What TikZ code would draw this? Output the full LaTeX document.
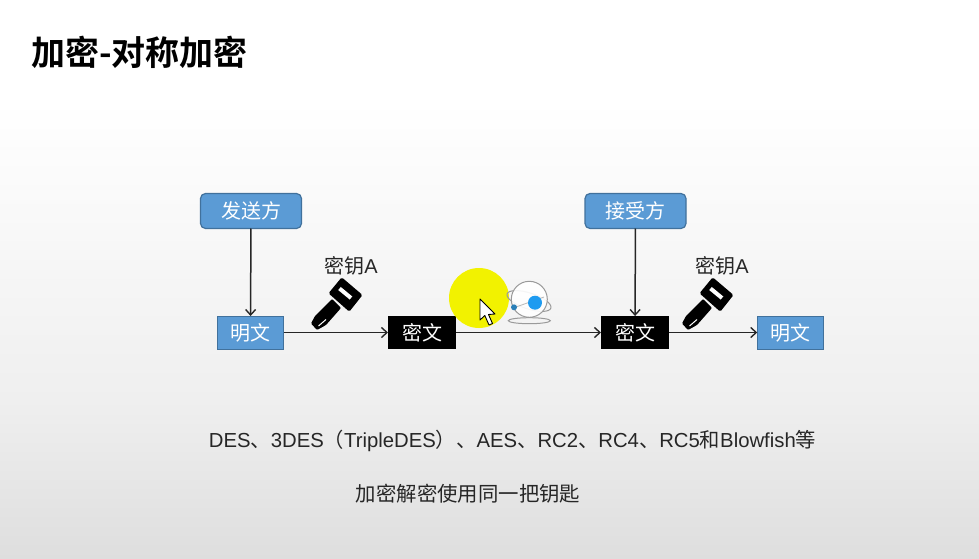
\documentclass[tikz,border=0pt]{standalone}
\usepackage{fontspec}
\setmainfont{Liberation Sans}
\newfontfamily\cjk{Noto Sans CJK SC}
\newfontfamily\cjkbold{Noto Sans CJK SC Bold}
\usetikzlibrary{arrows.meta}
\definecolor{boxblue}{HTML}{5B9BD5}
\definecolor{boxedge}{HTML}{41719C}
\definecolor{inktext}{HTML}{262626}
\definecolor{halo}{HTML}{F2F200}
\definecolor{orbit}{HTML}{9A9A9A}
\definecolor{orbdot}{HTML}{1E9BF0}
\definecolor{orbsmall}{HTML}{2A7FB8}
\definecolor{slidemid}{HTML}{EFEFEF}
\definecolor{slidelow}{HTML}{DEDEDE}
\tikzset{
  base/.style={inner sep=0pt,outer sep=0pt,text=white,font=\cjk\fontsize{20}{20}\selectfont,anchor=center},
  rolebox/.style={base,draw=boxedge,line width=1.2pt,fill=boxblue,rounded corners=5pt,minimum width=101pt,minimum height=35pt},
  plainbox/.style={base,draw=boxedge,line width=0.8pt,fill=boxblue,minimum width=66.5pt,minimum height=33pt},
  cipherbox/.style={base,fill=black,minimum width=68pt,minimum height=33pt},
  caption/.style={inner sep=0pt,text=inktext,anchor=center},
  flow/.style={draw=inktext,line width=1.5pt,-{Straight Barb[length=5.5pt,width=10pt,line width=1.4pt]}},
  keyicon/.pic={
    \fill[black,rounded corners=1.5pt] (341.7,277.3) -- (362.5,295) -- (349.3,311.7) -- (328.5,293.3) -- cycle;
    \fill[black,rounded corners=1pt] (332,299) -- (341,308) -- (326,325) -- (317,330) -- (311,323.5) -- (315,316) -- cycle;
    \draw[white,line width=4pt] (339.5,288.5) -- (351,298);
    \draw[white,line width=1pt] (326,319.5) -- (318.5,326);
  }
}
\begin{document}
\begin{tikzpicture}[x=1pt,y=-1pt]
  \useasboundingbox (0,0) rectangle (979,559);
  % slide background, two-stage vertical fade
  \fill[white] (0,0) rectangle (979,100);
  \shade[top color=white,bottom color=slidemid] (0,100) rectangle (979,400.5);
  \shade[top color=slidemid,bottom color=slidelow] (0,400) rectangle (979,559);

  % title
  \node[inner sep=0pt,anchor=west,text=black] (title) at (31,52)
    {\cjkbold\fontsize{34}{34}\selectfont 加密-对称加密};

  % boxes
  \node[rolebox] (sender) at (251,211) {发送方};
  \node[rolebox] (receiver) at (635.5,211) {接受方};
  \node[plainbox] (plainA) at (250.5,332.5) {明文};
  \node[cipherbox] (cipherA) at (422,332.5) {密文};
  \node[cipherbox] (cipherB) at (635,332.5) {密文};
  \node[plainbox] (plainB) at (790.5,332.5) {明文};

  % connectors
  \draw[flow] (sender) -- (plainA);
  \draw[flow] (plainA) -- (cipherA);
  \draw[flow] (cipherA) -- (cipherB);
  \draw[flow] (receiver) -- (cipherB);
  \draw[flow] (cipherB) -- (plainB);

  % key icons and their labels
  \pic at (0,0) {keyicon};
  \pic at (371,0) {keyicon};
  \node[caption] (keyA) at (351,266) {\fontsize{20}{20}\selectfont\cjk 密钥\rmfamily A};
  \node[caption] (keyB) at (722,266) {\fontsize{20}{20}\selectfont\cjk 密钥\rmfamily A};

  % pointer highlight and cursor
  \fill[halo] (479,298) circle (30);
  \draw[black,line width=0.9pt,fill=white,line join=round]
    (480,299) -- (480,320) -- (484.8,315.5) -- (489,325) -- (492.5,323.5) -- (488.5,314.5) -- (495,314) -- cycle;

  % floating orb: tilted ring behind the sphere, base ring below it
  \draw[orbit,line width=1pt,rotate around={-18:(529,301)}] (529,301) ellipse (23 and 8);
  \fill[white,opacity=0.9] (529.3,299.3) circle (18);
  \draw[orbit,line width=1pt] (529.3,299.3) circle (18);
  \draw[orbit,line width=1pt] (529.3,320.7) ellipse (21 and 3);
  \draw[orbit!70,line width=0.8pt] (516,307) -- (544,297);
  \fill[orbdot] (535,302.7) circle (7);
  \fill[orbsmall] (514,307.3) circle (3);

  % footer captions
  \node[caption] (algos) at (512.5,441) {\fontsize{20.3}{20.3}\selectfont DES{\cjk 、}3DES{\cjk （}TripleDES{\cjk ）、}AES{\cjk 、}RC2{\cjk 、}RC4{\cjk 、}RC5{\cjk 和}Blowfish{\cjk 等}};
  \node[caption] (note) at (468,494) {\cjk\fontsize{20.4}{20.4}\selectfont 加密解密使用同一把钥匙};
\end{tikzpicture}
\end{document}
